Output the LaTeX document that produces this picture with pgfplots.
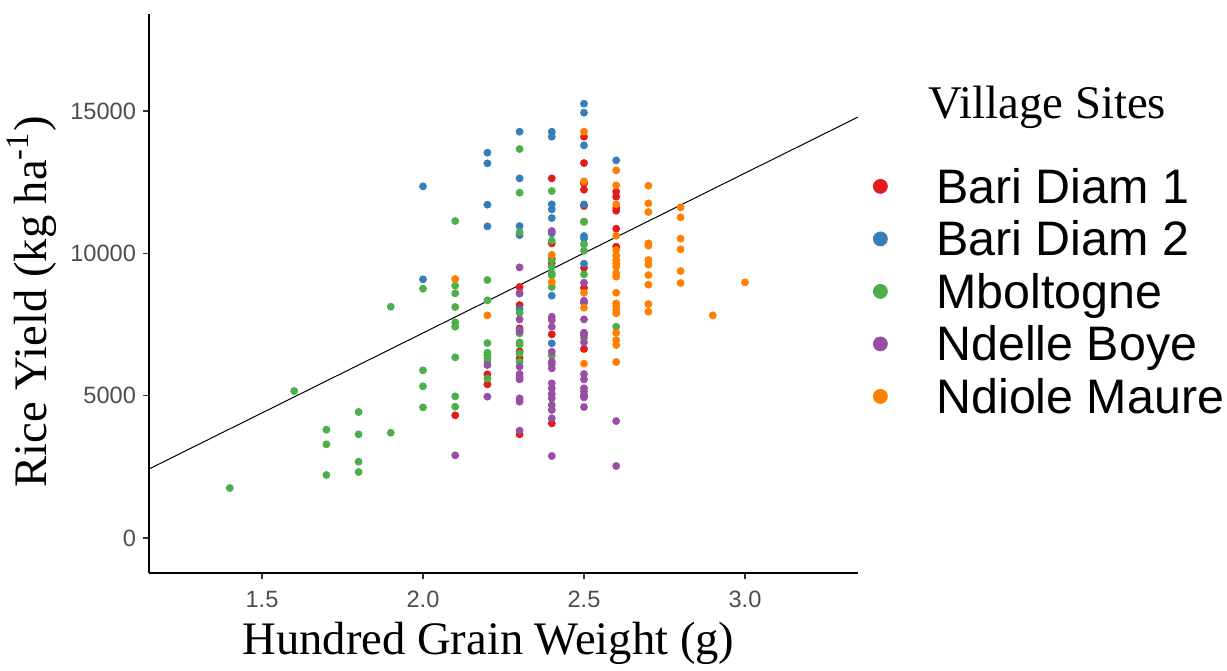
\documentclass[border=0pt]{standalone}
\usepackage{fontspec}
\setmainfont{Liberation Sans}
\newfontfamily\seriffont{Liberation Serif}
\usepackage{xcolor}
\usepackage{pgfplots}
\pgfplotsset{compat=1.18}

\definecolor{bd1}{HTML}{E41A1C}
\definecolor{bd2}{HTML}{377EB8}
\definecolor{mbo}{HTML}{4DAF4A}
\definecolor{ndb}{HTML}{984EA3}
\definecolor{ndm}{HTML}{FF7F00}
\definecolor{tickgray}{HTML}{4D4D4D}

\begin{document}
\begin{tikzpicture}
\begin{axis}[
  name=ax,
  scale only axis,
  width=354.5pt, height=279.5pt,
  xmin=1.149, xmax=3.351, ymin=-1229, ymax=18405,
  xtick={1.5,2.0,2.5,3.0}, ytick={0,5000,10000,15000},
  xticklabels={1.5,2.0,2.5,3.0},
  scaled ticks=false,
  /pgf/number format/1000 sep={},
  /pgf/number format/assume math mode=true,
  axis x line*=bottom, axis y line*=left,
  axis line style={line width=1pt, black, -},
  tick align=outside, major tick length=3pt,
  tick style={line width=0.6pt, black!80},
  tick label style={font=\fontsize{11.8}{12}\selectfont, color=tickgray},
  xticklabel style={yshift=-2.5pt},
  xlabel={\seriffont Hundred Grain Weight (g)},
  ylabel={\seriffont Rice Yield (kg ha\textsuperscript{-1})},
  label style={font=\fontsize{23.3}{24}\selectfont},
  x label style={at={(axis description cs:0.5,0)}, anchor=base, yshift=-40.5pt, xshift=-7.5pt},
  y label style={at={(axis description cs:0,0.485)}, anchor=base, yshift=51pt},
  legend style={at={(1,1)}, anchor=north west, xshift=7.5pt, yshift=-77.5pt,
    draw=none, fill=none, inner sep=0pt,
    font=\fontsize{24.2}{25}\selectfont, row sep=4.25pt,
    nodes={inner sep=0pt, text height=17pt, text depth=5pt},
    /tikz/every odd column/.append style={column sep=24.5pt}},
  legend image code/.code={\draw[#1, mark size=3.5pt] plot coordinates {(0.3cm,2.5pt)};},
  legend cell align=left,
]
% Bari Diam 1
\addplot[only marks, mark=*, mark size=1.75pt, color=bd1] coordinates {
 (2.1,4309) (2.2,5749) (2.2,5398)
 (2.3,8815) (2.3,8183) (2.3,7364) (2.3,6556) (2.3,6310) (2.3,3641)
 (2.4,12632) (2.4,10349) (2.4,9822) (2.4,9646) (2.4,7153) (2.4,4027)
 (2.5,14095) (2.5,13170) (2.5,12456) (2.5,12234) (2.5,11660) (2.5,11110) (2.5,9494) (2.5,8791) (2.5,6638)
 (2.6,12163) (2.6,11988) (2.6,11590) (2.6,11496) (2.6,10864) (2.6,10231)
};
\addlegendentry{Bari Diam 1}
% Bari Diam 2
\addplot[only marks, mark=*, mark size=1.75pt, color=bd2] coordinates {
 (2.0,12351) (2.0,9085)
 (2.2,13533) (2.2,13159) (2.2,11707) (2.2,10946)
 (2.3,14271) (2.3,12632) (2.3,10957) (2.3,10641) (2.3,8043) (2.3,7305)
 (2.4,14271) (2.4,14095) (2.4,11719) (2.4,11543) (2.4,11239) (2.4,10700) (2.4,8511) (2.4,6837)
 (2.5,15254) (2.5,14938) (2.5,13791) (2.5,11719) (2.5,10606) (2.5,10524) (2.5,9634)
 (2.6,13264)
};
\addlegendentry{Bari Diam 2}
% Mboltogne
\addplot[only marks, mark=*, mark size=1.75pt, color=mbo] coordinates {
 (1.4,1756) (1.6,5163)
 (1.7,3805) (1.7,3290) (1.7,2213)
 (1.8,4426) (1.8,3642) (1.8,2680) (1.8,2318)
 (1.9,8125) (1.9,3699)
 (2.0,8757) (2.0,5889) (2.0,5327) (2.0,4589)
 (2.1,11133) (2.1,8862) (2.1,8593) (2.1,8113) (2.1,7574) (2.1,7422) (2.1,6345) (2.1,4975) (2.1,4612)
 (2.2,9061) (2.2,8347) (2.2,6848) (2.2,6508) (2.2,6427) (2.2,6310) (2.2,6193) (2.2,5596)
 (2.3,13662) (2.3,12128) (2.3,10735) (2.3,8581) (2.3,7913) (2.3,7188) (2.3,6872) (2.3,6801) (2.3,6486) (2.3,6193)
 (2.4,12187) (2.4,10443) (2.4,9763) (2.4,9529) (2.4,9295) (2.4,9225) (2.4,8815) (2.4,6404)
 (2.5,11110) (2.5,10325) (2.5,10091) (2.5,9260) (2.5,7024)
 (2.6,7422)
};
\addlegendentry{Mboltogne}
% Ndelle Boye
\addplot[only marks, mark=*, mark size=1.75pt, color=ndb] coordinates {
 (2.1,2904) (2.2,6076) (2.2,4964)
 (2.3,9506) (2.3,8600) (2.3,7679) (2.3,7247) (2.3,6018) (2.3,5760) (2.3,5643) (2.3,5573) (2.3,4905) (2.3,4788) (2.3,3770)
 (2.4,10782) (2.4,7773) (2.4,7656) (2.4,7422) (2.4,6544) (2.4,6193) (2.4,6111) (2.4,5959) (2.4,5432) (2.4,5257) (2.4,5057) (2.4,4905) (2.4,4671) (2.4,4495) (2.4,4203) (2.4,2880)
 (2.5,8967) (2.5,8335) (2.5,8265) (2.5,7679) (2.5,7211) (2.5,7129) (2.5,6872) (2.5,5760) (2.5,5573) (2.5,5257) (2.5,5140) (2.5,5023) (2.5,4940) (2.5,4601)
 (2.6,4109) (2.6,2529)
};
\addlegendentry{Ndelle Boye}
% Ndiole Maure
\addplot[only marks, mark=*, mark size=1.75pt, color=ndm] coordinates {
 (2.1,9096) (2.2,7820)
 (2.4,9951) (2.4,8991)
 (2.5,14271) (2.5,12526) (2.5,8616) (2.5,8089) (2.5,6123)
 (2.6,12913) (2.6,12386) (2.6,11719) (2.6,10617) (2.6,10115) (2.6,9915) (2.6,9763) (2.6,9646) (2.6,9529) (2.6,9295) (2.6,9178) (2.6,8616) (2.6,8242) (2.6,8124) (2.6,8007) (2.6,7890) (2.6,7211) (2.6,6954) (2.6,6778) (2.6,6181)
 (2.7,12374) (2.7,11754) (2.7,11449) (2.7,10349) (2.7,10267) (2.7,9763) (2.7,9600) (2.7,9237) (2.7,8897) (2.7,8218) (2.7,7949)
 (2.8,11613) (2.8,11262) (2.8,10513) (2.8,10138) (2.8,9377) (2.8,8956)
 (2.9,7820) (3.0,8979)
};
\addlegendentry{Ndiole Maure}
% fitted line
\addplot[black, line width=0.5pt, forget plot] coordinates {(1.149,2423) (3.351,14786)};
\end{axis}
\node[anchor=base west, inner sep=0pt, font=\seriffont\fontsize{23.4}{24}\selectfont]
  at ([xshift=35pt, yshift=-52.5pt]ax.north east) {Village Sites};
\path ([xshift=-74.5pt, yshift=7pt]ax.north west) rectangle ([xshift=184.5pt, yshift=-45.5pt]ax.south east);
\end{tikzpicture}
\end{document}
